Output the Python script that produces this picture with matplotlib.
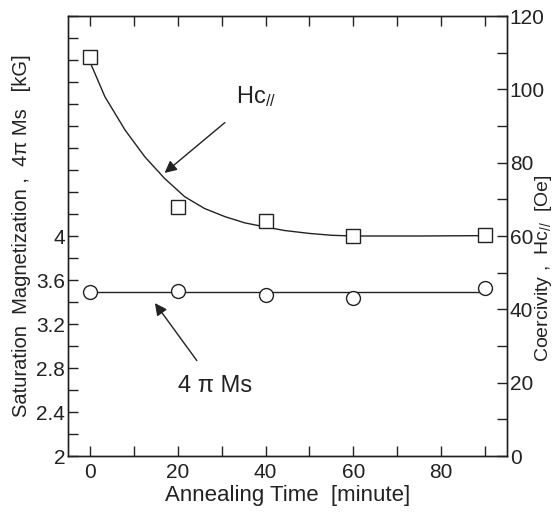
import numpy as np
import matplotlib
matplotlib.use("Agg")
import matplotlib.pyplot as plt
from matplotlib.ticker import MultipleLocator, FixedLocator

plt.rcParams['font.family'] = ['Liberation Sans', 'DejaVu Sans']
plt.rcParams['mathtext.default'] = 'regular'

### Data ###
time_min = [0, 20, 40, 60, 90]
hc_oe = [108.8, 68.0, 64.0, 60.0, 60.2]          # coercivity, right axis
ms_kg = [3.49, 3.50, 3.46, 3.44, 3.53]           # 4 pi Ms, left axis

# smooth curve through Hc
hc_curve_t = [0, 3.4, 8.0, 12.5, 17.0, 21.6, 26.1, 30.7, 35.2, 39.8, 44.3, 50, 55, 60, 75, 90]
hc_curve_v = [107.5, 98.0, 88.9, 81.6, 75.7, 70.7, 67.5, 65.3, 63.6, 62.5, 61.5, 60.7, 60.2, 60.0, 60.0, 60.1]

ms_line_t = [0, 90]
ms_line_v = [3.49, 3.49]

left_ticks = [2, 2.4, 2.8, 3.2, 3.6, 4]
ink = '#222222'

fig = plt.figure(figsize=(5.56, 5.13), dpi=100)
ax = fig.add_axes([68 / 556, 1 - 456 / 513, (507 - 68) / 556, (456 - 16) / 513])
ax2 = ax.twinx()

# left axis: saturation magnetization
ax.plot(ms_line_t, ms_line_v, color=ink, lw=1.0, zorder=2)
ax.plot(time_min, ms_kg, 'o', ms=10, mfc='white', mec=ink, mew=1.0, zorder=3)
ax.set_xlim(-5, 95)
ax.set_ylim(2, 6)
ax.yaxis.set_major_locator(FixedLocator(left_ticks))
ax.yaxis.set_minor_locator(MultipleLocator(0.2))
ax.set_yticklabels([f'{v:g}' for v in left_ticks])
ax.xaxis.set_major_locator(MultipleLocator(20))
ax.xaxis.set_minor_locator(MultipleLocator(10))
ax.set_xticks([0, 20, 40, 60, 80])

# right axis: coercivity
ax2.plot(hc_curve_t, hc_curve_v, color=ink, lw=1.0, zorder=2)
ax2.plot(time_min, hc_oe, 's', ms=10, mfc='white', mec=ink, mew=1.0, zorder=3)
ax2.set_ylim(0, 120)
ax2.yaxis.set_major_locator(MultipleLocator(20))
ax2.yaxis.set_minor_locator(MultipleLocator(10))

for a in (ax, ax2):
    a.tick_params(which='both', direction='in', length=7, width=1.0, colors=ink,
                  labelsize=15, pad=2)
    for s in a.spines.values():
        s.set_linewidth(1.0)
        s.set_color(ink)
ax.tick_params(which='both', top=True, labeltop=False)
ax.tick_params(axis='x', pad=5)

ax.set_xlabel('Annealing Time  [minute]', fontsize=16, color=ink, labelpad=2)
ax.set_ylabel('Saturation  Magnetization ,  4π Ms   [kG]', fontsize=14.5, color=ink, labelpad=4)
fig.text(544 / 556, 1 - 268 / 513, 'Coercivity ,  Hc$_{//}$  [Oe]', rotation=90,
         ha='center', va='center', fontsize=14, color=ink)

# annotations
ax2.annotate('Hc$_{//}$', xy=(17, 77.2), xytext=(37.8, 98), fontsize=17, color=ink,
             ha='center', va='center',
             arrowprops=dict(arrowstyle='-|>', color=ink, lw=1.0, mutation_scale=18,
                             shrinkA=12, shrinkB=0))
ax.annotate('4 π Ms', xy=(14.8, 3.39), xytext=(28.5, 2.64), fontsize=17, color=ink,
            ha='center', va='center',
            arrowprops=dict(arrowstyle='-|>', color=ink, lw=1.0, mutation_scale=18,
                            shrinkA=10, shrinkB=0))

fig.savefig('out.png', dpi=100)
